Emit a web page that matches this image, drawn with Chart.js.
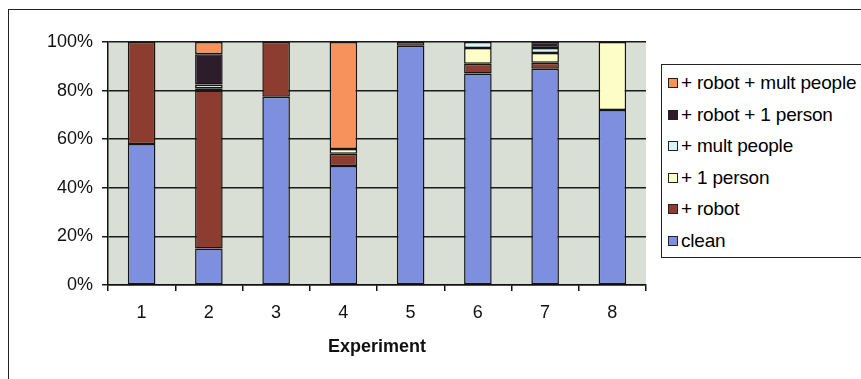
<!DOCTYPE html>
<html>
<head>
<meta charset="utf-8">
<script src="https://cdn.jsdelivr.net/npm/chart.js@4/dist/chart.umd.min.js"></script>
<style>
  body { margin: 0; background: #fff; font-family: "Liberation Sans", Arial, sans-serif; }
  #wrap { position: relative; width: 861px; height: 379px; overflow: hidden; }
  #frame { position: absolute; left: 8px; top: 9px; width: 900px; height: 420px; border: 1px solid #222; }
  #myChart { position: absolute; left: 0; top: 0; }
  #legend { position: absolute; left: 661px; top: 64px; width: 230px; height: 192px; border: 1px solid #222; background: #fff; }
  .item { position: absolute; left: 6px; height: 20px; line-height: 20px; font-size: 19px; color: #000; white-space: nowrap; letter-spacing: -0.2px; }
  .sw { display: inline-block; width: 8px; height: 8px; border: 1px solid #222; margin-right: 3px; vertical-align: 1px; }
</style>
</head>
<body>
<div id="wrap">
  <div id="frame"></div>
  <canvas id="myChart" width="861" height="379"></canvas>
  <div id="legend"></div>
</div>
<script>
const experiments = ['1', '2', '3', '4', '5', '6', '7', '8'];
const clean       = [58, 15, 77.5, 49, 98.5, 87, 89, 72];
const robot       = [42, 65, 22.5, 5, 1.5, 4, 2.5, null];
const onePerson   = [null, 1, null, 2, null, 6.5, 4, 28];
const multPeople  = [null, 1.5, null, null, null, 2.5, 2, null];
const robotOne    = [null, 12.5, null, null, null, null, 2.5, null];
const robotMult   = [null, 5, null, 44, null, null, null, null];
const yTicks      = [0, 20, 40, 60, 80, 100];

const seriesNames  = ['clean', '+ robot', '+ 1 person', '+ mult people', '+ robot + 1 person', '+ robot + mult people'];
const seriesData   = [clean, robot, onePerson, multPeople, robotOne, robotMult];
const seriesColors = ['#7e8fe0', '#8c3d30', '#fdfdc8', '#d6f5f8', '#2d1c2a', '#f7925c'];

const plotBg = {
  id: 'plotBg',
  beforeDraw(chart) {
    const a = chart.chartArea;
    const c = chart.ctx;
    c.save();
    c.fillStyle = '#dadfd5';
    c.fillRect(a.left, a.top, a.right - a.left, a.bottom - a.top);
    c.restore();
  }
};

const ctx = document.getElementById('myChart');

new Chart(ctx, {
  type: 'bar',
  data: {
    labels: experiments,
    datasets: seriesNames.map((name, i) => ({
      label: name,
      data: seriesData[i],
      backgroundColor: seriesColors[i],
      borderColor: '#151515',
      borderWidth: 1.5,
      borderSkipped: false,
      barPercentage: 0.41,
      categoryPercentage: 1
    }))
  },
  options: {
    responsive: false,
    animation: false,
    layout: { padding: { left: 0, top: 42, right: 215, bottom: 19 } },
    plugins: { legend: { display: false }, tooltip: { enabled: false } },
    scales: {
      x: {
        stacked: true,
        afterFit: (s) => { s.height = 75; },
        grid: { offset: true, drawOnChartArea: false, tickLength: 6, color: '#111', lineWidth: 1.5 },
        border: { color: '#111', width: 1.5 },
        ticks: { color: '#111', padding: 11, font: { family: 'Liberation Sans', size: 18 } },
        title: {
          display: true, text: 'Experiment', color: '#111',
          padding: { top: 0, bottom: 2 },
          font: { family: 'Liberation Sans', size: 18, weight: 'bold' }
        }
      },
      y: {
        stacked: true,
        min: 0,
        max: 100,
        afterFit: (s) => { s.width = 108; },
        afterBuildTicks: (s) => { s.ticks = yTicks.map(v => ({ value: v })); },
        grid: { color: '#1a1a1a', lineWidth: 1.5, tickLength: 6 },
        border: { color: '#111', width: 1.5 },
        ticks: {
          color: '#111', padding: 9,
          font: { family: 'Liberation Sans', size: 18 },
          callback: (v) => v + '%'
        }
      }
    }
  },
  plugins: [plotBg]
});

// legend, top entry is the last series
const legend = document.getElementById('legend');
seriesNames.slice().reverse().forEach((name, i) => {
  const color = seriesColors[seriesColors.length - 1 - i];
  const div = document.createElement('div');
  div.className = 'item';
  div.style.top = (8 + i * 31.6) + 'px';
  div.innerHTML = '<span class="sw" style="background:' + color + '"></span>' + name;
  legend.appendChild(div);
});
</script>
</body>
</html>
